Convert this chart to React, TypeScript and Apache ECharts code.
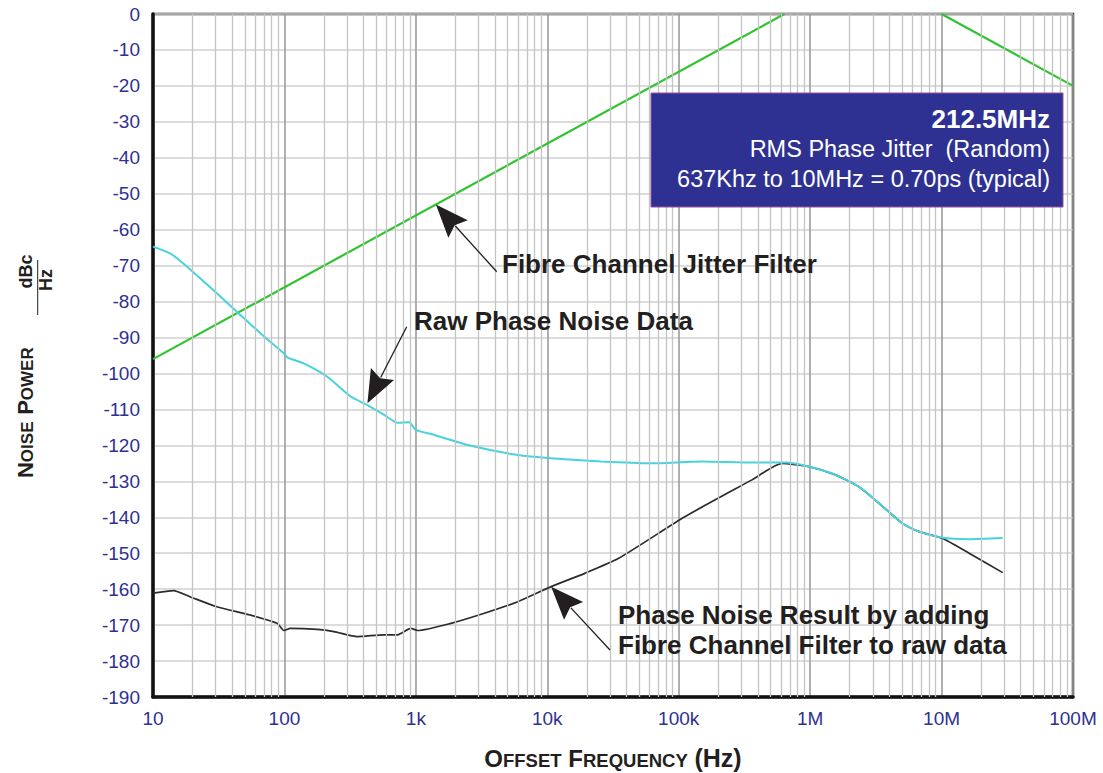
import React, { useEffect, useRef } from 'react';
import * as echarts from 'echarts';

// ---------- data ----------
const xTickLabels = ['10', '100', '1k', '10k', '100k', '1M', '10M', '100M'];
const yMin = -190;
const yMax = 0;
const yStep = 10;

// Fibre Channel jitter filter (green)
const filterRiseFreq = [10, 637000];
const filterRiseDb = [-96, 0];
const filterFallFreq = [10000000, 100000000];
const filterFallDb = [0, -20];

// Raw phase noise data (cyan)
const rawFreq = [10, 13.5, 17, 27, 43.5, 65.6, 99, 105, 140, 212, 319, 428, 573, 725, 889, 1000, 1380, 2480, 5970, 10700, 25800, 62000, 150000, 361000, 648000, 977000, 1560000, 2350000, 3340000, 5040000, 6750000, 10200000, 16200000, 29200000];
const rawDb = [-64.7, -66.6, -69.4, -75.9, -82.8, -88.8, -94.4, -95.5, -97.2, -100.9, -106.4, -108.8, -111.5, -113.7, -113.6, -115.7, -117.1, -119.9, -122.7, -123.6, -124.5, -125.0, -124.5, -124.8, -124.8, -125.9, -128.2, -131.5, -136.1, -141.7, -144.0, -145.7, -146.1, -145.8];

// Phase noise result with filter applied (black)
const resultFreq = [10, 14.3, 19.1, 30.6, 55, 88, 99, 111, 178, 238, 359, 573, 725, 916, 1030, 1850, 3320, 5970, 10700, 19300, 34600, 112000, 361000, 611000, 977000, 1560000, 2350000, 3340000, 5040000, 6750000, 10200000, 16200000, 29200000];
const resultDb = [-161.1, -160.4, -162.1, -164.9, -167.2, -169.5, -171.5, -170.9, -171.2, -171.8, -173.2, -172.7, -172.7, -170.9, -171.5, -169.5, -166.7, -163.5, -159.3, -155.6, -151.5, -139.8, -129.6, -125.0, -125.9, -128.2, -131.5, -136.1, -141.7, -144.0, -145.9, -150.0, -155.4];

// grid helpers (minor log grid lines)
const decadeStarts = [10, 100, 1000, 10000, 100000, 1000000, 10000000];
const minorSteps = [2, 3, 4, 5, 6, 7, 8, 9];

// annotation anchors (data coords of arrow tips)
const fibreTip = [1420, -53];
const rawTip = [428, -108.3];
const resultTip = [10700, -159.3];

const FONT = '"Liberation Sans", Arial, Helvetica, sans-serif';
const TEXT = '#231f20';
const BLUE = '#2e3192';

const zip = (a: number[], b: number[]) => a.map((v, i) => [v, b[i]]);

function arrow(tip: number[], tail: number[]) {
  const dx = tail[0] - tip[0];
  const dy = tail[1] - tip[1];
  const L = Math.hypot(dx, dy);
  const ux = dx / L, uy = dy / L;
  const nx = -uy, ny = ux;
  const headLen = 33, halfW = 13;
  const bx = tip[0] + ux * headLen, by = tip[1] + uy * headLen;
  return [
    {
      type: 'line',
      silent: true,
      z: 100,
      shape: { x1: bx - ux * 4, y1: by - uy * 4, x2: tail[0], y2: tail[1] },
      style: { stroke: TEXT, lineWidth: 1.3 },
    },
    {
      type: 'polygon',
      silent: true,
      z: 100,
      shape: {
        points: [
          [tip[0], tip[1]],
          [bx + nx * halfW, by + ny * halfW],
          [tip[0] + ux * headLen * 0.85, tip[1] + uy * headLen * 0.85],
          [bx - nx * halfW, by - ny * halfW],
        ],
      },
      style: { fill: TEXT },
    },
  ];
}

export default function App() {
  const ref = useRef<HTMLDivElement>(null);

  useEffect(() => {
    if (!ref.current) return;
    const chart = echarts.init(ref.current, null, { renderer: 'svg' });

    const minorFreqs: number[] = [];
    decadeStarts.forEach((d) => minorSteps.forEach((m) => minorFreqs.push(d * m)));

    const option: any = {
      animation: false,
      backgroundColor: '#ffffff',
      grid: {
        left: 153,
        right: 30,
        top: 14,
        bottom: 76,
        show: true,
        borderColor: '#2a2a2a',
        borderWidth: 2.5,
        backgroundColor: 'transparent',
      },
      xAxis: {
        type: 'log',
        logBase: 10,
        min: 10,
        max: 100000000,
        axisLine: { show: true, onZero: false, lineStyle: { color: '#111', width: 3.5 } },
        axisTick: { show: false },
        axisLabel: {
          color: BLUE,
          fontSize: 19,
          fontFamily: FONT,
          margin: 12,
          formatter: (v: number) => xTickLabels[Math.round(Math.log10(v)) - 1] ?? '',
        },
        splitLine: { show: true, lineStyle: { color: '#9c9c9c', width: 1.6 } },
      },
      yAxis: {
        type: 'value',
        min: yMin,
        max: yMax,
        interval: yStep,
        axisLine: { show: true, onZero: false, lineStyle: { color: '#111', width: 3.5 } },
        axisTick: { show: false },
        axisLabel: { color: BLUE, fontSize: 19, fontFamily: FONT, margin: 13 },
        splitLine: { show: true, lineStyle: { color: '#d0d0d0', width: 1.5 } },
      },
      series: [
        {
          type: 'line',
          data: [],
          silent: true,
          z: 1,
          markLine: {
            silent: true,
            symbol: ['none', 'none'],
            label: { show: false },
            lineStyle: { color: '#c4c4c4', width: 1.3, type: 'solid' },
            emphasis: { disabled: true },
            data: minorFreqs.map((v) => ({ xAxis: v })),
          },
        },
        {
          type: 'line',
          data: zip(filterRiseFreq, filterRiseDb),
          symbol: 'none',
          lineStyle: { color: '#2fc42f', width: 2.2 },
          z: 3,
        },
        {
          type: 'line',
          data: zip(filterFallFreq, filterFallDb),
          symbol: 'none',
          lineStyle: { color: '#2fc42f', width: 2.2 },
          z: 3,
        },
        {
          type: 'line',
          data: zip(resultFreq, resultDb),
          symbol: 'none',
          smooth: 0.2,
          lineStyle: { color: '#2b2b2b', width: 1.7 },
          z: 3,
        },
        {
          type: 'line',
          data: zip(rawFreq, rawDb),
          symbol: 'none',
          smooth: 0.2,
          lineStyle: { color: '#45d3dd', width: 2 },
          z: 4,
        },
      ],
    };
    chart.setOption(option);

    const px = (p: number[]) => chart.convertToPixel({ gridIndex: 0 }, p) as number[];
    const fTip = px(fibreTip);
    const rTip = px(rawTip);
    const resTip = px(resultTip);
    const leftTop = px([10, 0]);
    const rightBottom = px([100000000, -190]);
    const midX = (leftTop[0] + rightBottom[0]) / 2;

    const boldText = (text: string, x: number, y: number, size = 26) => ({
      type: 'text',
      silent: true,
      z: 100,
      x,
      y,
      style: {
        text,
        fill: TEXT,
        fontSize: size,
        fontWeight: 'bold',
        fontFamily: FONT,
        align: 'left',
        verticalAlign: 'middle',
      },
    });

    const whiteText = (text: string, y: number, size: number, weight: string) => ({
      type: 'text',
      silent: true,
      z: 101,
      x: 1050,
      y,
      style: {
        text,
        fill: '#ffffff',
        fontSize: size,
        fontWeight: weight,
        fontFamily: FONT,
        align: 'right',
        verticalAlign: 'middle',
      },
    });

    const graphic: any[] = [
      {
        type: 'rect',
        silent: true,
        z: 100,
        shape: { x: 651, y: 93, width: 412, height: 114 },
        style: { fill: BLUE, stroke: '#9b4f9e', lineWidth: 1 },
      },
      whiteText('212.5MHz', 119, 26, 'bold'),
      whiteText('RMS Phase Jitter  (Random)', 149, 23.5, 'normal'),
      whiteText('637Khz to 10MHz = 0.70ps (typical)', 179, 23.5, 'normal'),
      boldText('Fibre Channel Jitter Filter', 502, 264),
      boldText('Raw Phase Noise Data', 414, 321),
      boldText('Phase Noise Result by adding', 618, 615),
      boldText('Fibre Channel Filter to raw data', 618, 645),
      ...arrow(fTip, [496.7, 271.7]),
      ...arrow(rTip, [406.7, 326.7]),
      ...arrow(resTip, [610, 650]),
      // x axis name
      {
        type: 'text',
        silent: true,
        z: 100,
        x: midX,
        y: 757,
        style: {
          text: '{b|O}{s|FFSET}  {b|F}{s|REQUENCY}  {h|(Hz)}',
          align: 'center',
          verticalAlign: 'middle',
          rich: {
            b: { fontSize: 24, fontWeight: 'bold', fontFamily: FONT, fill: TEXT, verticalAlign: 'bottom', lineHeight: 26 },
            s: { fontSize: 18.5, fontWeight: 'bold', fontFamily: FONT, fill: TEXT, verticalAlign: 'bottom', lineHeight: 26 },
            h: { fontSize: 25, fontWeight: 'bold', fontFamily: FONT, fill: TEXT, verticalAlign: 'bottom', lineHeight: 26 },
          },
        },
      },
      // y axis name (rotated)
      {
        type: 'group',
        x: 0,
        y: 478,
        rotation: Math.PI / 2,
        silent: true,
        z: 100,
        children: [
          {
            type: 'text',
            x: 0,
            y: 24,
            style: {
              text: '{b|N}{s|OISE}  {b|P}{s|OWER}',
              align: 'left',
              verticalAlign: 'middle',
              rich: {
                b: { fontSize: 22, fontWeight: 'bold', fontFamily: FONT, fill: TEXT, verticalAlign: 'bottom', lineHeight: 24 },
                s: { fontSize: 17, fontWeight: 'bold', fontFamily: FONT, fill: TEXT, verticalAlign: 'bottom', lineHeight: 24 },
              },
            },
          },
          {
            type: 'text',
            x: 206.5,
            y: 25.5,
            style: { text: 'dBc', fontSize: 18, fontWeight: 'bold', fontFamily: FONT, fill: TEXT, align: 'center', verticalAlign: 'middle' },
          },
          {
            type: 'line',
            shape: { x1: 163, y1: 37.7, x2: 218, y2: 37.7 },
            style: { stroke: TEXT, lineWidth: 1 },
          },
          {
            type: 'text',
            x: 198,
            y: 46,
            style: { text: 'Hz', fontSize: 18, fontWeight: 'bold', fontFamily: FONT, fill: TEXT, align: 'center', verticalAlign: 'middle' },
          },
        ],
      },
    ];

    chart.setOption({ graphic });

    return () => {
      chart.dispose();
    };
  }, []);

  return (
    <div
      ref={ref}
      style={{ position: 'absolute', left: 0, top: 0, width: 1103, height: 773, background: '#fff' }}
    />
  );
}
